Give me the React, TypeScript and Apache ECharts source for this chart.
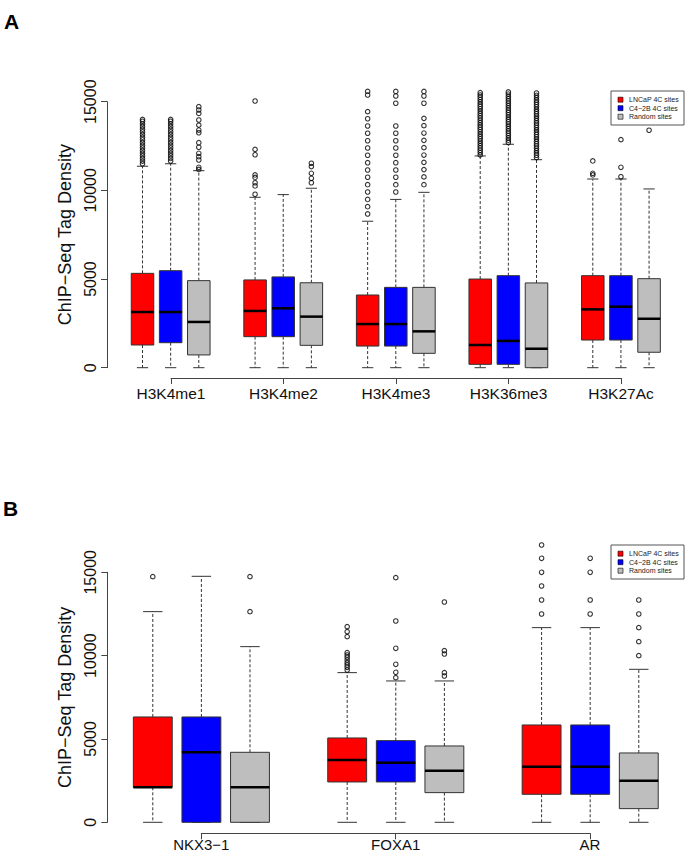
import React, { useEffect, useRef } from "react";
import * as echarts from "echarts";

const FONT = "'Liberation Sans', Arial, Helvetica, sans-serif";
const SERIES_NAMES = ["LNCaP 4C sites", "C4−2B 4C sites", "Random sites"];
const COLORS = ["#FF0000", "#0000FF", "#BEBEBE"];
const Y_NAME = "ChIP−Seq Tag Density";
const Y_MIN = 0;
const Y_MAX = 15000;
const Y_STEP = 5000;

// Panel A: [lower whisker, Q1, median, Q3, upper whisker] per group
const GROUPS_A = ["H3K4me1", "H3K4me2", "H3K4me3", "H3K36me3", "H3K27Ac"];
const LNCAP_A = [
  [0, 1280, 3140, 5320, 11360],
  [0, 1750, 3200, 4950, 9610],
  [0, 1220, 2460, 4100, 8260],
  [0, 190, 1280, 5000, 11940],
  [0, 1560, 3290, 5190, 10640],
];
const C42B_A = [
  [0, 1410, 3140, 5470, 11500],
  [0, 1750, 3350, 5120, 9760],
  [0, 1220, 2460, 4530, 9490],
  [0, 190, 1510, 5190, 12600],
  [0, 1560, 3440, 5190, 10640],
];
const RANDOM_A = [
  [0, 720, 2580, 4910, 11110],
  [0, 1260, 2880, 4790, 10120],
  [0, 810, 2050, 4530, 9890],
  [0, 0, 1070, 4780, 11730],
  [0, 870, 2760, 5020, 10080],
];
const LNCAP_A_OUT = [
  [11500, 11650, 11800, 11950, 12100, 12250, 12400, 12550, 12700, 12850, 13000, 13150, 13300, 13450, 13600, 13750, 13900, 14000],
  [9780, 10250, 10430, 10730, 10870, 12010, 12310, 15040],
  [8670, 9080, 9490, 9910, 10320, 10740, 11150, 11560, 11980, 12390, 12800, 13220, 13630, 14040, 14440, 15380, 15580],
  [12000, 12130, 12260, 12390, 12520, 12650, 12780, 12910, 13040, 13170, 13300, 13430, 13560, 13690, 13820, 13950, 14080, 14210, 14340, 14470, 14600, 14730, 14860, 14990, 15120, 15250, 15380, 15510],
  [10870, 10960, 11660],
];
const C42B_A_OUT = [
  [11650, 11800, 11950, 12100, 12250, 12400, 12550, 12700, 12850, 13000, 13150, 13300, 13450, 13600, 13750, 13900, 14000],
  [],
  [9910, 10320, 10740, 11150, 11560, 11980, 12390, 12800, 13220, 13630, 14910, 15320, 15580],
  [12700, 12830, 12960, 13090, 13220, 13350, 13480, 13610, 13740, 13870, 14000, 14130, 14260, 14390, 14520, 14650, 14780, 14910, 15040, 15170, 15300, 15430, 15550],
  [10770, 11300, 12860],
];
const RANDOM_A_OUT = [
  [11180, 11300, 11710, 11900, 12090, 12430, 12690, 13250, 13400, 13680, 13970, 14340, 14530, 14720],
  [10430, 10680, 10960, 11340, 11530],
  [10320, 10760, 11170, 11580, 11990, 12410, 12820, 13230, 13650, 14060, 14910, 15320, 15580],
  [11850, 11980, 12110, 12240, 12370, 12500, 12630, 12760, 12890, 13020, 13150, 13280, 13410, 13540, 13670, 13800, 13930, 14060, 14190, 14320, 14450, 14580, 14710, 14840, 14970, 15100, 15230, 15360, 15490],
  [13390],
];

// Panel B
const GROUPS_B = ["NKX3−1", "FOXA1", "AR"];
const LNCAP_B = [
  [0, 2100, 2100, 6320, 12640],
  [0, 2420, 3740, 5060, 8980],
  [0, 1680, 3340, 5840, 11680],
];
const C42B_B = [
  [0, 0, 4200, 6320, 14760],
  [0, 2420, 3580, 4900, 8480],
  [0, 1680, 3340, 5840, 11680],
];
const RANDOM_B = [
  [0, 0, 2100, 4200, 10540],
  [0, 1780, 3100, 4580, 8480],
  [0, 820, 2500, 4160, 9180],
];
const LNCAP_B_OUT = [
  [14740],
  [9140, 9300, 9440, 9580, 9740, 9900, 10040, 10180, 11140, 11440, 11740],
  [12500, 13340, 14180, 15000, 15840, 16640],
];
const C42B_B_OUT = [
  [],
  [8680, 9000, 9480, 10440, 12080, 14680],
  [12500, 13340, 15000, 15840],
];
const RANDOM_B_OUT = [
  [12640, 14740],
  [8780, 8980, 10100, 10300, 13220],
  [10000, 10840, 11680, 12500, 13340],
];

function panelSeries(stats: number[][][], outs: number[][][], axisIdx: number) {
  const series: any[] = [];
  stats.forEach((groupStats, s) => {
    const color = COLORS[s];
    series.push({
      type: "custom",
      name: SERIES_NAMES[s],
      coordinateSystem: "cartesian2d",
      xAxisIndex: axisIdx,
      yAxisIndex: axisIdx,
      clip: false,
      silent: true,
      z: 2,
      encode: { x: 0, y: [1, 2, 3, 4, 5] },
      data: groupStats.map((st, g) => [3 + 4 * g + s, ...st]),
      renderItem: (params: any, api: any) => {
        const x = api.value(0) as number;
        const lo = api.value(1), q1 = api.value(2), med = api.value(3), q3 = api.value(4), hi = api.value(5);
        const [cx, yHi] = api.coord([x, hi]);
        const yLo = api.coord([x, lo])[1];
        const yQ1 = api.coord([x, q1])[1];
        const yQ3 = api.coord([x, q3])[1];
        const yMed = api.coord([x, med])[1];
        const xl = api.coord([x - 0.4, 0])[0];
        const xr = api.coord([x + 0.4, 0])[0];
        const cl = api.coord([x - 0.2, 0])[0];
        const cr = api.coord([x + 0.2, 0])[0];
        return {
          type: "group",
          children: [
            { type: "line", shape: { x1: cx, y1: yQ3, x2: cx, y2: yHi }, style: { stroke: "#333", lineWidth: 1, lineDash: [3, 2] } },
            { type: "line", shape: { x1: cx, y1: yQ1, x2: cx, y2: yLo }, style: { stroke: "#333", lineWidth: 1, lineDash: [3, 2] } },
            { type: "line", shape: { x1: cl, y1: yHi, x2: cr, y2: yHi }, style: { stroke: "#333", lineWidth: 1 } },
            { type: "line", shape: { x1: cl, y1: yLo, x2: cr, y2: yLo }, style: { stroke: "#333", lineWidth: 1 } },
            { type: "rect", shape: { x: xl, y: yQ3, width: xr - xl, height: yQ1 - yQ3 }, style: { fill: color, stroke: "#333", lineWidth: 1 } },
            { type: "line", shape: { x1: xl, y1: yMed, x2: xr, y2: yMed }, style: { stroke: "#000", lineWidth: 2.5 } },
          ],
        };
      },
    });
    series.push({
      type: "scatter",
      name: SERIES_NAMES[s],
      xAxisIndex: axisIdx,
      yAxisIndex: axisIdx,
      clip: false,
      silent: true,
      z: 3,
      symbol: "circle",
      symbolSize: 4.5,
      itemStyle: { color: "rgba(0,0,0,0)", borderColor: "#000", borderWidth: 1.1 },
      data: outs[s].flatMap((vals, g) => vals.map((v) => [3 + 4 * g + s, v])),
    });
  });
  return series;
}

function legendGraphics(x: number, y: number) {
  const els: any[] = [
    { type: "rect", shape: { x, y, width: 73, height: 34 }, style: { fill: "#fff", stroke: "#555", lineWidth: 1 } },
  ];
  SERIES_NAMES.forEach((name, i) => {
    const cy = y + 8.7 + i * 8.5;
    els.push({ type: "rect", shape: { x: x + 7, y: cy - 2.5, width: 5, height: 5 }, style: { fill: COLORS[i], stroke: "#000", lineWidth: 0.6 } });
    els.push({ type: "text", x: x + 18, y: cy, style: { text: name, fontSize: 7, fontFamily: FONT, fill: "#222", verticalAlign: "middle", align: "left" } });
  });
  return els;
}

function valueYAxis(gridIndex: number) {
  return {
    gridIndex,
    type: "value",
    min: Y_MIN,
    max: Y_MAX,
    interval: Y_STEP,
    name: Y_NAME,
    nameLocation: "middle",
    nameGap: 30,
    nameTextStyle: { fontSize: 18, color: "#111", fontFamily: FONT },
    axisLine: { show: true, lineStyle: { color: "#444", width: 1 } },
    axisTick: { show: true, length: 6, lineStyle: { color: "#444" } },
    axisLabel: { rotate: 90, fontSize: 16, color: "#111", margin: 9, fontFamily: FONT, formatter: (v: number) => String(v) },
    splitLine: { show: false },
  };
}

function labelXAxis(gridIndex: number, data: string[], fontSize: number, margin: number) {
  return {
    gridIndex,
    type: "category",
    data,
    boundaryGap: false,
    axisLine: { show: true, lineStyle: { color: "#444", width: 1 } },
    axisTick: { show: true, length: 6, alignWithLabel: true, lineStyle: { color: "#444" } },
    axisLabel: { interval: 0, fontSize, color: "#111", margin, fontFamily: FONT },
    splitLine: { show: false },
  };
}

export default function App() {
  const ref = useRef<HTMLDivElement>(null);
  useEffect(() => {
    if (!ref.current) return;
    const chart = echarts.init(ref.current, null, { renderer: "svg" });
    const option: any = {
      animation: false,
      backgroundColor: "#fff",
      textStyle: { fontFamily: FONT },
      grid: [
        { left: 107, top: 101.7, width: 584, height: 266, outerBoundsMode: "none" },
        { left: 171, top: 377, width: 450, height: 1, outerBoundsMode: "none" },
        { left: 107.3, top: 572.3, width: 583, height: 250, outerBoundsMode: "none" },
        { left: 201.3, top: 832.3, width: 388.7, height: 1, outerBoundsMode: "none" },
      ],
      xAxis: [
        { gridIndex: 0, type: "value", min: 1.738, max: 22.49, show: false },
        labelXAxis(1, GROUPS_A, 15.5, 7),
        { gridIndex: 2, type: "value", min: 2.064, max: 14.06, show: false },
        labelXAxis(3, GROUPS_B, 15, 4),
      ],
      yAxis: [
        valueYAxis(0),
        { gridIndex: 1, type: "value", show: false },
        valueYAxis(2),
        { gridIndex: 3, type: "value", show: false },
      ],
      series: [
        ...panelSeries([LNCAP_A, C42B_A, RANDOM_A], [LNCAP_A_OUT, C42B_A_OUT, RANDOM_A_OUT], 0),
        ...panelSeries([LNCAP_B, C42B_B, RANDOM_B], [LNCAP_B_OUT, C42B_B_OUT, RANDOM_B_OUT], 2),
      ],
      graphic: [
        { type: "text", x: 4, y: 11, style: { text: "A", fontSize: 21, fontWeight: "bold", fontFamily: FONT, fill: "#000" } },
        { type: "text", x: 3, y: 498, style: { text: "B", fontSize: 21, fontWeight: "bold", fontFamily: FONT, fill: "#000" } },
        ...legendGraphics(611, 91),
        ...legendGraphics(611, 545),
      ],
    };
    chart.setOption(option);
    return () => chart.dispose();
  }, []);
  return <div ref={ref} style={{ position: "fixed", left: 0, top: 0, width: 700, height: 855 }} />;
}
